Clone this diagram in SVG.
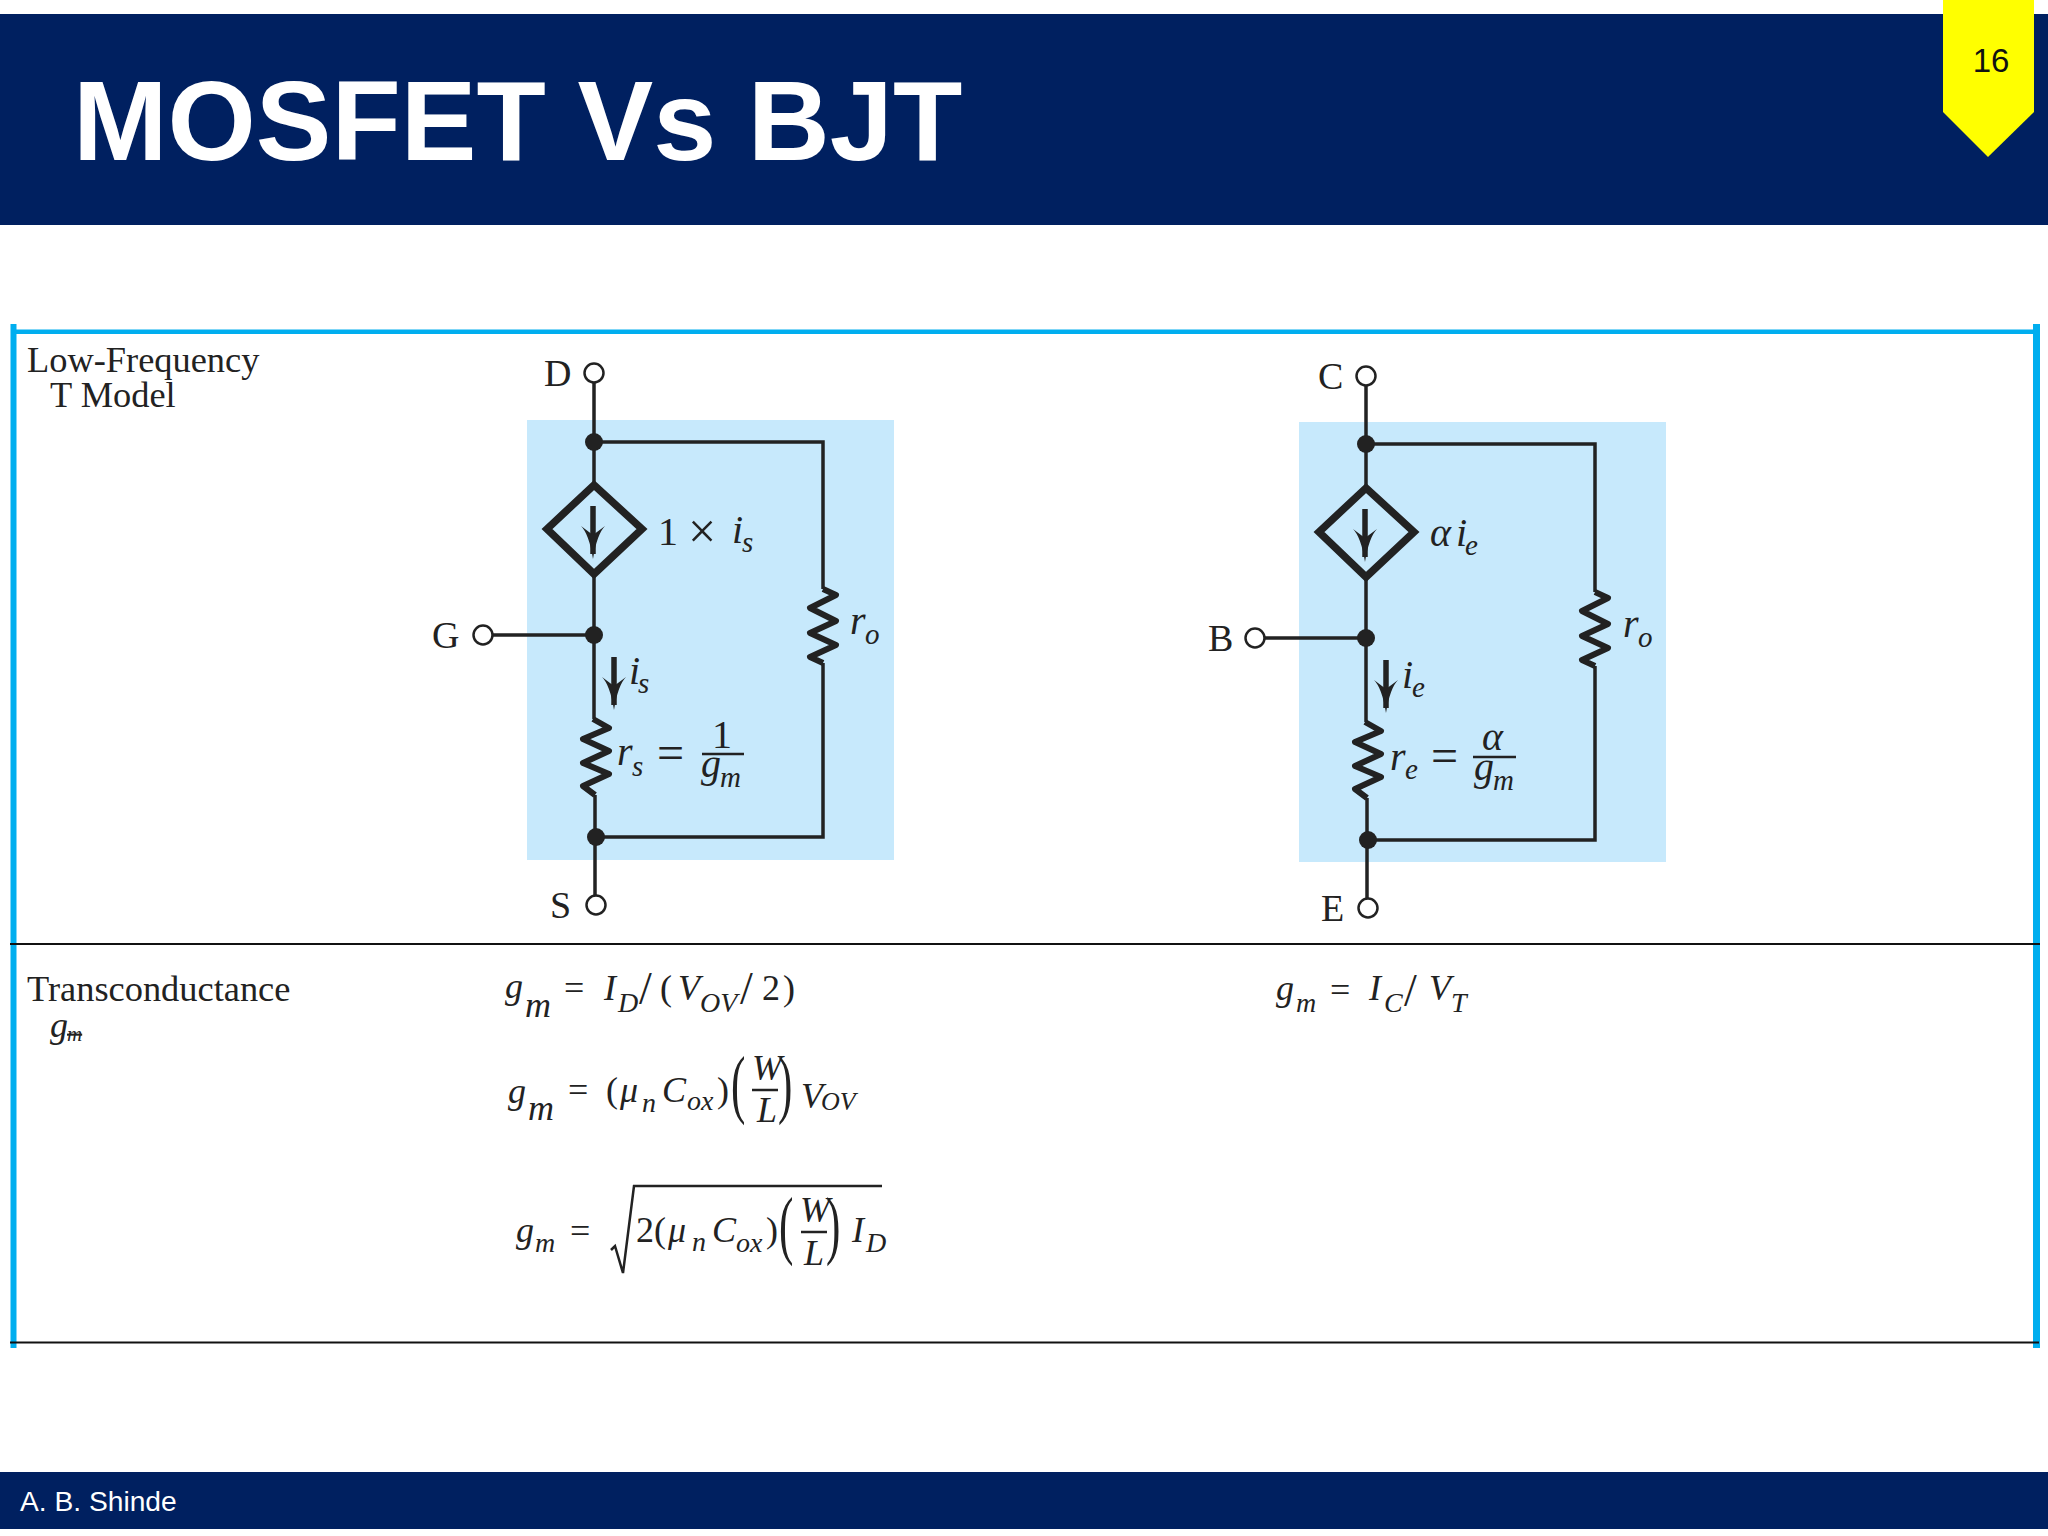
<svg xmlns="http://www.w3.org/2000/svg" width="2048" height="1536" viewBox="0 0 2048 1536">
<style>
text{font-family:"Liberation Serif","Times New Roman",serif;fill:#222}
.m{font-style:italic}
.t{font-size:40px}
.s{font-size:29px}
.lab{font-size:38px}
.w{fill:none;stroke:#222;stroke-width:3.5}
.wt{fill:none;stroke:#111;stroke-width:2}
.r{fill:none;stroke:#222;stroke-width:6;stroke-linejoin:round}
.d{fill:none;stroke:#222;stroke-width:7.5}
.dot{fill:#222}
.o{fill:#fff;stroke:#222;stroke-width:2.5}
.bl{fill:#c7e9fc}
.eq{font-size:36px}
.eqs{font-size:28px}
.sl{font-size:46px}
.navy{fill:#002060}
.cy{fill:#00aeef}
.sans{font-family:"Liberation Sans",Arial,sans-serif}
</style>
<defs>
<g id="arrow"><path d="M0,0V48" fill="none" stroke="#222" stroke-width="5.5"/><path d="M-12,20Q-4,28 0,53Q4,28 12,20Q4,26 0,29Q-4,26 -12,20Z" fill="#222"/></g>
</defs>
<rect width="2048" height="1536" fill="#fff"/>
<g id="header">
<rect class="navy" x="0" y="14" width="2048" height="211"/>
<text class="sans" x="73" y="160" font-size="113.500" font-weight="700" style="fill:#fff">MOSFET Vs BJT</text>
</g>
<g id="page-badge">
<polygon points="1943,0 2034,0 2034,112 1988,157 1943,112" fill="#ffff00"/>
<text class="sans" x="1991" y="72" font-size="33" text-anchor="middle" style="fill:#111">16</text>
</g>
<g id="footer">
<rect class="navy" x="0" y="1472" width="2048" height="57"/>
<text class="sans" x="20" y="1511" font-size="28.200" style="fill:#fff">A. B. Shinde</text>
</g>
<g id="table">
<rect class="cy" x="12" y="329.500" width="2026" height="4.500"/>
<rect class="cy" x="10.500" y="324" width="6" height="1024"/>
<rect class="cy" x="2033" y="324" width="7" height="1024"/>
<path d="M10,944H2040M10,1342.500H2039" class="wt"/>
<text x="27" y="372" font-size="36.400">Low-Frequency</text>
<text x="50" y="407" font-size="36.400">T Model</text>
<text x="27" y="1001" font-size="36.400">Transconductance</text>
<text class="m" x="50" y="1037" font-size="36">g</text>
<text class="m" x="67" y="1041" font-size="21" text-decoration="line-through">m</text>
</g>
<rect id="mos-bg" class="bl" x="527" y="420" width="367" height="440"/>
<rect id="bjt-bg" class="bl" x="1299" y="422" width="367" height="440"/>
<g id="connectors">
<path class="w" d="M594,382V484M594,575V719M595,795V896M594,442H823V589M823,663V837H596M493,635H594"/>
<path class="w" d="M1366,385V487M1366,578V722M1367,798V899M1366,444H1595V592M1595,666V840H1368M1265,638H1366"/>
</g>
<g id="mos-nodes">
<circle id="D" class="o" cx="594" cy="373" r="9.500"/>
<circle id="G" class="o" cx="483" cy="635" r="9.500"/>
<circle id="S" class="o" cx="596" cy="905" r="9.500"/>
<circle class="dot" cx="594" cy="442" r="9"/>
<circle class="dot" cx="594" cy="635" r="9"/>
<circle class="dot" cx="596" cy="837" r="9"/>
<g id="mos-source"><polygon class="d" points="594,485 642,529 594,574 547,529"/><use href="#arrow" x="593" y="506"/></g>
<g id="mos-rs"><polyline class="r" points="593,719 609,728 583,739 609,751 583,763 609,774 583,786 595,795"/></g>
<g id="mos-ro"><polyline class="r" points="823,589 836,595 810,608 836,621 810,633 836,645 810,657 823,663"/></g>
<use href="#arrow" x="614" y="657"/>
<text class="lab" x="544" y="386">D</text>
<text class="lab" x="432" y="648">G</text>
<text class="lab" x="550" y="918">S</text>
<text class="t" x="658" y="545">1</text>
<text x="688" y="548" font-size="50">×</text>
<text class="t m" x="732" y="543">i</text><text class="s m" x="742" y="552">s</text>
<text class="t m" x="629" y="684">i</text><text class="s m" x="638" y="693">s</text>
<text class="t m" x="617" y="765">r</text><text class="s m" x="632" y="776">s</text>
<text x="657" y="769" font-size="48">=</text>
<text class="t" x="712" y="748">1</text>
<path class="w" style="stroke-width:2.500" d="M702,754H744"/>
<text class="t m" x="701" y="777">g</text><text class="s m" x="720" y="787">m</text>
<text class="t m" x="850" y="634">r</text><text class="s m" x="865" y="644">o</text>
</g>
<g id="bjt-nodes">
<circle id="C" class="o" cx="1366" cy="376" r="9.500"/>
<circle id="B" class="o" cx="1255" cy="638" r="9.500"/>
<circle id="E" class="o" cx="1368" cy="908" r="9.500"/>
<circle class="dot" cx="1366" cy="444" r="9"/>
<circle class="dot" cx="1366" cy="638" r="9"/>
<circle class="dot" cx="1368" cy="840" r="9"/>
<g id="bjt-source"><polygon class="d" points="1366,488 1414,532 1366,577 1319,532"/><use href="#arrow" x="1365" y="509"/></g>
<g id="bjt-re"><polyline class="r" points="1365,722 1381,731 1355,742 1381,754 1355,766 1381,777 1355,789 1367,798"/></g>
<g id="bjt-ro"><polyline class="r" points="1595,592 1608,598 1582,611 1608,624 1582,636 1608,648 1582,660 1595,666"/></g>
<use href="#arrow" x="1386" y="660"/>
<text class="lab" x="1318" y="389">C</text>
<text class="lab" x="1208" y="651">B</text>
<text class="lab" x="1321" y="921">E</text>
<text class="t m" x="1430" y="546">α</text>
<text class="t m" x="1456" y="546">i</text><text class="s m" x="1465" y="555">e</text>
<text class="t m" x="1402" y="688">i</text><text class="s m" x="1412" y="697">e</text>
<text class="t m" x="1390" y="770">r</text><text class="s m" x="1405" y="779">e</text>
<text x="1431" y="772" font-size="48">=</text>
<text class="t m" x="1482" y="750">α</text>
<path class="w" style="stroke-width:2.500" d="M1473,757H1516"/>
<text class="t m" x="1474" y="780">g</text><text class="s m" x="1493" y="790">m</text>
<text class="t m" x="1623" y="637">r</text><text class="s m" x="1638" y="647">o</text>
</g>
<g id="eq1">
<text class="eq m" x="505" y="998">g</text><text class="eq m" x="525" y="1017">m</text>
<text class="eq" x="564" y="1000">=</text>
<text class="eq m" x="604" y="1000">I</text><text class="eqs m" x="618" y="1012">D</text>
<text class="sl" x="639" y="1004">/</text><text class="eq" x="660" y="1000">(</text>
<text class="eq m" x="678" y="1000">V</text><text class="eqs m" x="700" y="1012">OV</text>
<text class="sl" x="740" y="1004">/</text><text class="eq" x="762" y="1000">2</text><text class="eq" x="783" y="1000">)</text>
</g>
<g id="eq2">
<text class="eq m" x="508" y="1103">g</text><text class="eq m" x="528" y="1120">m</text>
<text class="eq" x="568" y="1102">=</text>
<text class="eq" x="606" y="1102">(</text><text class="eq m" x="620" y="1102" font-size="38">μ</text><text class="eqs m" x="642" y="1112">n</text>
<text class="eq m" x="662" y="1102">C</text><text class="eqs m" x="687" y="1110">ox</text><text class="eq" x="717" y="1102">)</text>
<text class="eq" transform="translate(731,1109) scale(1.200,2.100)">(</text><text class="eq m" x="752" y="1080">W</text>
<path class="w" style="stroke-width:2.500" d="M752,1090H778"/>
<text class="eq m" x="757" y="1122">L</text><text class="eq" transform="translate(778,1109) scale(1.200,2.100)">)</text>
<text class="eq m" x="801" y="1108">V</text><text class="m" x="821" y="1110" style="font-size:26px">OV</text>
</g>
<g id="eq3">
<text class="eq m" x="516" y="1242">g</text><text class="eqs m" x="535" y="1252">m</text>
<text class="eq" x="570" y="1243">=</text>
<path d="M611,1250L615,1246L623,1273L634,1186H882" fill="none" stroke="#222" stroke-width="2.500"/>
<text class="eq" x="636" y="1242">2</text><text class="eq" x="654" y="1242">(</text>
<text class="eq m" x="668" y="1242" font-size="38">μ</text><text class="eqs m" x="692" y="1251">n</text>
<text class="eq m" x="712" y="1242">C</text><text class="eqs m" x="736" y="1252">ox</text><text class="eq" x="766" y="1242">)</text>
<text class="eq" transform="translate(779,1250) scale(1.200,2.100)">(</text><text class="eq m" x="800" y="1222">W</text>
<path class="w" style="stroke-width:2.500" d="M801,1232H827"/>
<text class="eq m" x="804" y="1265">L</text><text class="eq" transform="translate(826,1250) scale(1.200,2.100)">)</text>
<text class="eq m" x="852" y="1242">I</text><text class="eqs m" x="866" y="1252">D</text>
</g>
<g id="eq4">
<text class="eq m" x="1276" y="1000">g</text><text class="eqs m" x="1296" y="1012">m</text>
<text class="eq" x="1330" y="1002">=</text>
<text class="eq m" x="1369" y="1000">I</text><text class="eqs m" x="1384" y="1012">C</text>
<text class="sl" x="1404" y="1006">/</text>
<text class="eq m" x="1429" y="1000">V</text><text class="eqs m" x="1451" y="1012">T</text>
</g>
</svg>
